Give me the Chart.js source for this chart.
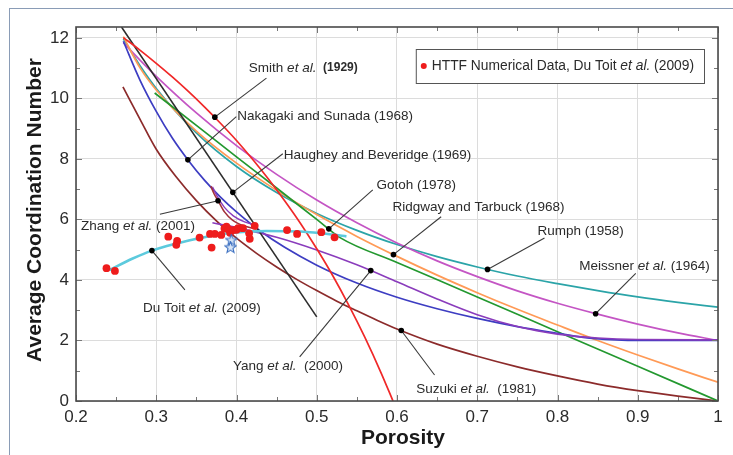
<!DOCTYPE html>
<html>
<head>
<meta charset="utf-8">
<script src="https://cdn.jsdelivr.net/npm/chart.js@4"></script>
<style>
  html, body { margin: 0; padding: 0; background: #fff; }
  #wrap { position: relative; width: 733px; height: 455px; overflow: hidden; }
  #frame { position: absolute; left: 9px; top: 8px; right: -2px; bottom: -2px;
           border-left: 1px solid #8a9cb6; border-top: 1px solid #8a9cb6; pointer-events: none; }
  canvas { position: absolute; left: 0; top: 0; }
</style>
</head>
<body>
<div id="wrap"><canvas id="chart" width="733" height="455"></canvas><div id="frame"></div></div>
<script>
// ----- Data (porosity, coordination number) -----
const X_TICKS = [0.2, 0.3, 0.4, 0.5, 0.6, 0.7, 0.8, 0.9, 1.0];
const X_TICK_LABELS = ['0.2','0.3','0.4','0.5','0.6','0.7','0.8','0.9','1'];
const Y_TICKS = [0, 2, 4, 6, 8, 10, 12];
const Y_TICK_LABELS = ['0','2','4','6','8','10','12'];
const X_MINOR = [0.25, 0.35, 0.45, 0.55, 0.65, 0.75, 0.85, 0.95];
const Y_MINOR = [1, 3, 5, 7, 9, 11];

const SMITH = [[0.259,12.01],[0.28,11.59],[0.30,11.16],[0.32,10.71],[0.34,10.23],[0.36,9.72],[0.38,9.18],
  [0.40,8.61],[0.42,7.99],[0.44,7.33],[0.46,6.62],[0.48,5.86],[0.50,5.03],[0.52,4.14],[0.54,3.16],
  [0.56,2.10],[0.58,0.94],[0.595,0]];
const HAUGHEY = [[0.2567,12.36],[0.5,2.78]];
const NAKAGAKI = [[0.259,11.89],[0.28,10.59],[0.30,9.57],[0.32,8.69],[0.34,7.95],[0.36,7.30],[0.38,6.74],
  [0.40,6.25],[0.43,5.61],[0.46,5.08],[0.50,4.49],[0.55,3.90],[0.60,3.43],[0.65,3.05],[0.70,2.73],
  [0.75,2.46],[0.80,2.24],[0.84,2.08],[0.88,2.01],[0.92,2.0],[1.0,2.0]];
const YANG = [[0.37,5.89],[0.40,5.73],[0.45,5.41],[0.50,4.99],[0.55,4.50],[0.60,3.94],[0.65,3.37],
  [0.70,2.85],[0.75,2.46],[0.80,2.21],[0.85,2.08],[0.90,2.03],[1.0,2.02]];
const MEISSNER = [[0.259,11.84],[0.28,11.26],[0.30,10.73],[0.35,9.52],[0.40,8.44],[0.45,7.49],[0.50,6.64],
  [0.55,5.89],[0.60,5.22],[0.65,4.63],[0.70,4.11],[0.75,3.64],[0.80,3.23],[0.85,2.87],[0.90,2.54],
  [0.95,2.25],[1.0,2.0]];
const RUMPH = [[0.259,11.97],[0.28,11.07],[0.30,10.33],[0.35,8.86],[0.40,7.75],[0.45,6.89],[0.50,6.2],
  [0.55,5.64],[0.60,5.17],[0.65,4.77],[0.70,4.43],[0.75,4.13],[0.80,3.88],[0.85,3.65],[0.90,3.44],
  [0.95,3.26],[1.0,3.1]];
const RIDGWAY = [[0.259,12.04],[0.28,11.0],[0.30,10.28],[0.35,8.92],[0.40,7.86],[0.45,6.96],[0.50,6.16],
  [0.55,5.44],[0.60,4.78],[0.65,4.16],[0.70,3.58],[0.75,3.03],[0.80,2.51],[0.85,2.0],[0.90,1.52],
  [0.95,1.06],[1.0,0.62]];
const GOTOH = [[0.298,10.18],[0.35,9.11],[0.40,8.07],[0.45,7.04],[0.50,6.0],[0.529,5.4],[0.60,4.58],
  [0.70,3.44],[0.80,2.29],[0.90,1.15],[1.0,0]];
const SUZUKI = [[0.2585,10.38],[0.28,9.3],[0.30,8.32],[0.325,7.4],[0.35,6.62],[0.375,5.95],[0.40,5.38],
  [0.425,4.88],[0.45,4.43],[0.475,4.02],[0.50,3.65],[0.525,3.3],[0.55,2.98],[0.575,2.67],[0.60,2.38],
  [0.65,1.88],[0.70,1.48],[0.75,1.13],[0.80,0.83],[0.85,0.56],[0.90,0.34],[0.95,0.16],[1.0,0]];
const ZHANG = [[0.368,7.1],[0.372,6.85],[0.377,6.62],[0.385,6.25],[0.395,5.98],[0.41,5.78],[0.425,5.68]];
const ZHANG_B = [[0.370,7.08],[0.376,6.76],[0.385,6.40],[0.396,6.12],[0.41,5.92],[0.42,5.84]];
const DUTOIT = [[0.242,4.33],[0.27,4.7],[0.2946,4.97],[0.325,5.2],[0.354,5.38],[0.395,5.56],[0.4375,5.62],
  [0.48,5.6],[0.52,5.5],[0.537,5.44]];
const HTTF = [[0.238,4.39],[0.2485,4.30],[0.315,5.43],[0.326,5.29],[0.325,5.16],[0.354,5.40],[0.367,5.52],
  [0.373,5.52],[0.369,5.07],[0.381,5.49],[0.3875,5.76],[0.392,5.56],[0.385,5.70],[0.39,5.68],[0.396,5.65],
  [0.40,5.66],[0.402,5.71],[0.408,5.71],[0.4157,5.54],[0.4165,5.36],[0.4227,5.79],[0.463,5.65],
  [0.4755,5.52],[0.5057,5.58],[0.5222,5.41]];
const STARS = [[0.3935,5.32],[0.3925,5.08]];

// annotation: label parts, dot on curve, leader end, text anchor (left/middle)
const NOTES = [
  {parts:[['Smith ',''],['et al.','italic'],['  (1929)','bold',12]], dot:[0.373,9.38], end:[0.4373,10.67], at:[0.4154,11.01]},
  {parts:[['Nakagaki and Sunada (1968)','']], dot:[0.3394,7.97], end:[0.3998,9.40], at:[0.401,9.40]},
  {parts:[['Haughey and Beveridge (1969)','']], dot:[0.3954,6.895], end:[0.4577,8.17], at:[0.4588,8.13]},
  {parts:[['Gotoh (1978)','']], dot:[0.515,5.69], end:[0.5698,6.98], at:[0.5745,7.14]},
  {parts:[['Ridgway and Tarbuck (1968)','']], dot:[0.5956,4.836], end:[0.655,6.09], at:[0.5945,6.41]},
  {parts:[['Rumph (1958)','']], dot:[0.7128,4.349], end:[0.7838,5.39], at:[0.775,5.6]},
  {parts:[['Meissner ',''],['et al.','italic'],[' (1964)','']], dot:[0.8475,2.884], end:[0.8975,4.22], at:[0.827,4.46]},
  {parts:[['Suzuki ',''],['et al.','italic'],['  (1981)','']], dot:[0.6053,2.33], end:[0.6468,0.86], at:[0.624,0.40]},
  {parts:[['Yang ',''],['et al.','italic'],['  (2000)','']], dot:[0.5673,4.31], end:[0.4787,1.46], at:[0.3955,1.16]},
  {parts:[['Zhang ',''],['et al.','italic'],[' (2001)','']], dot:[0.377,6.62], end:[0.3045,6.17], at:[0.2062,5.76]},
  {parts:[['Du Toit ',''],['et al.','italic'],[' (2009)','']], dot:[0.2946,4.97], end:[0.3357,3.67], at:[0.2834,3.07]}
];

const FONT = 'Arial, "Liberation Sans", Helvetica, sans-serif';
const TEXT = '#2b2b2b';

// ----- Helpers -----
function pts(a){ return a.map(p => ({x:p[0], y:p[1]})); }
function curve(data, color, width){
  return { data: pts(data), borderColor: color, backgroundColor: color, borderWidth: width || 1.6,
           showLine: true, pointRadius: 0, cubicInterpolationMode: 'monotone', fill: false };
}
function starImage(){
  const c = document.createElement('canvas'); c.width = 13; c.height = 13;
  const g = c.getContext('2d');
  g.beginPath();
  for(let i=0;i<10;i++){
    const r = i%2 ? 2.6 : 6, a = -Math.PI/2 + i*Math.PI/5;
    g.lineTo(6.5 + r*Math.cos(a), 6.8 + r*Math.sin(a));
  }
  g.closePath(); g.fillStyle = '#d6e4f6'; g.fill();
  g.strokeStyle = '#3b6fc0'; g.lineWidth = 1.1; g.stroke();
  return c;
}

// ----- Decorations: frame, minor ticks, titles, notes, legend -----
const decor = {
  id: 'decor',
  afterDatasetsDraw(chart){
    const {ctx, chartArea:a, scales:{x, y}} = chart;
    ctx.save();
    // minor ticks
    ctx.strokeStyle = '#777'; ctx.lineWidth = 1;
    ctx.beginPath();
    for(const v of X_MINOR){ const px = Math.round(x.getPixelForValue(v))+0.5;
      ctx.moveTo(px, a.bottom); ctx.lineTo(px, a.bottom-4); ctx.moveTo(px, a.top); ctx.lineTo(px, a.top+4); }
    for(const v of X_TICKS){ const px = Math.round(x.getPixelForValue(v))+0.5;
      ctx.moveTo(px, a.bottom); ctx.lineTo(px, a.bottom-6); ctx.moveTo(px, a.top); ctx.lineTo(px, a.top+6); }
    for(const v of Y_MINOR){ const py = Math.round(y.getPixelForValue(v))+0.5;
      ctx.moveTo(a.left, py); ctx.lineTo(a.left+4, py); ctx.moveTo(a.right, py); ctx.lineTo(a.right-4, py); }
    for(const v of Y_TICKS){ const py = Math.round(y.getPixelForValue(v))+0.5;
      ctx.moveTo(a.left, py); ctx.lineTo(a.left+6, py); ctx.moveTo(a.right, py); ctx.lineTo(a.right-6, py); }
    ctx.stroke();
    // frame
    ctx.strokeStyle = '#4a4a4a'; ctx.lineWidth = 1.6;
    ctx.strokeRect(a.left, a.top, a.right-a.left, a.bottom-a.top);

    // notes
    for(const n of NOTES){
      const dx = x.getPixelForValue(n.dot[0]), dy = y.getPixelForValue(n.dot[1]);
      const ex = x.getPixelForValue(n.end[0]), ey = y.getPixelForValue(n.end[1]);
      ctx.strokeStyle = '#3a3a3a'; ctx.lineWidth = 1.1;
      ctx.beginPath(); ctx.moveTo(dx, dy); ctx.lineTo(ex, ey); ctx.stroke();
      ctx.fillStyle = '#000';
      ctx.beginPath(); ctx.arc(dx, dy, 2.8, 0, Math.PI*2); ctx.fill();
      let tx = x.getPixelForValue(n.at[0]);
      const ty = y.getPixelForValue(n.at[1]);
      ctx.textBaseline = 'middle'; ctx.textAlign = 'left'; ctx.fillStyle = TEXT;
      for(const [t, st, sz] of n.parts){
        ctx.font = (st ? st + ' ' : '') + (sz || 13.5) + 'px ' + FONT;
        ctx.fillText(t, tx, ty);
        tx += ctx.measureText(t).width;
      }
    }

    // legend
    const parts = [['HTTF Numerical Data, Du Toit ',''],['et al.','italic'],[' (2009)','']];
    let w = 0;
    for(const [t, st] of parts){ ctx.font = (st ? st+' ' : '') + '13.8px ' + FONT; w += ctx.measureText(t).width; }
    const bw = w + 26, bh = 34, bx = a.right - 14 - bw, by = a.top + 22;
    ctx.fillStyle = '#fff'; ctx.fillRect(bx, by, bw, bh);
    ctx.strokeStyle = '#555'; ctx.lineWidth = 1; ctx.strokeRect(bx+0.5, by+0.5, bw, bh);
    ctx.fillStyle = '#ee1c1c'; ctx.beginPath(); ctx.arc(bx+8, by+bh/2, 3, 0, Math.PI*2); ctx.fill();
    let lx = bx + 16;
    ctx.fillStyle = TEXT; ctx.textBaseline = 'middle';
    for(const [t, st] of parts){
      ctx.font = (st ? st+' ' : '') + '13.8px ' + FONT;
      ctx.fillText(t, lx, by+bh/2+0.5); lx += ctx.measureText(t).width;
    }

    // axis titles
    ctx.fillStyle = '#1a1a1a'; ctx.font = 'bold 21px ' + FONT; ctx.textAlign = 'center';
    ctx.fillText('Porosity', (a.left+a.right)/2 + 6, 438);
    ctx.translate(35, 210); ctx.rotate(-Math.PI/2);
    ctx.fillText('Average Coordination Number', 0, 0);
    ctx.restore();
  }
};

// ----- Chart -----
const ctx = document.getElementById('chart').getContext('2d');
new Chart(ctx, {
  type: 'scatter',
  data: { datasets: [
    { data: pts(STARS), pointStyle: starImage(), pointRadius: 6, showLine: false },
    { data: pts(HTTF), backgroundColor: '#ee1c1c', borderWidth: 0, pointRadius: 3.9, showLine: false },
    curve(DUTOIT, '#5ccadd', 2.6),
    curve(ZHANG, '#a3303a', 1.6),
    curve(ZHANG_B, '#8a3cbc', 1.4),
    curve(SMITH, '#f02828', 1.7),
    curve(HAUGHEY, '#2d2d2d', 1.6),
    curve(YANG, '#8a3cbc', 1.6),
    curve(NAKAGAKI, '#3d3dc2', 1.7),
    curve(GOTOH, '#23982f', 1.7),
    curve(RIDGWAY, '#ff9a56', 1.7),
    curve(MEISSNER, '#c455c4', 1.7),
    curve(RUMPH, '#2ba4a8', 1.7),
    curve(SUZUKI, '#8c2b2b', 1.7)
  ]},
  options: {
    responsive: false, animation: false,
    layout: { padding: { top: 27, right: 15, left: 0, bottom: 0 } },
    plugins: { legend: { display: false }, tooltip: { enabled: false } },
    scales: {
      x: { type: 'linear', min: 0.2, max: 1,
           afterBuildTicks: s => { s.ticks = X_TICKS.map(v => ({value: v})); },
           afterFit: s => { s.height = 54; },
           ticks: { callback: (v, i) => X_TICK_LABELS[i], color: TEXT, padding: 6, maxRotation: 0, autoSkip: false,
                    font: { family: FONT, size: 17 } },
           grid: { color: '#dcdcdc', lineWidth: 1, drawTicks: false },
           border: { display: false } },
      y: { min: 0, max: 12.36,
           afterBuildTicks: s => { s.ticks = Y_TICKS.map(v => ({value: v})); },
           afterFit: s => { s.width = 76; },
           ticks: { callback: (v, i) => Y_TICK_LABELS[i], color: TEXT, padding: 7,
                    font: { family: FONT, size: 17 } },
           grid: { color: '#dcdcdc', lineWidth: 1, drawTicks: false },
           border: { display: false } }
    }
  },
  plugins: [decor]
});
</script>
</body>
</html>
